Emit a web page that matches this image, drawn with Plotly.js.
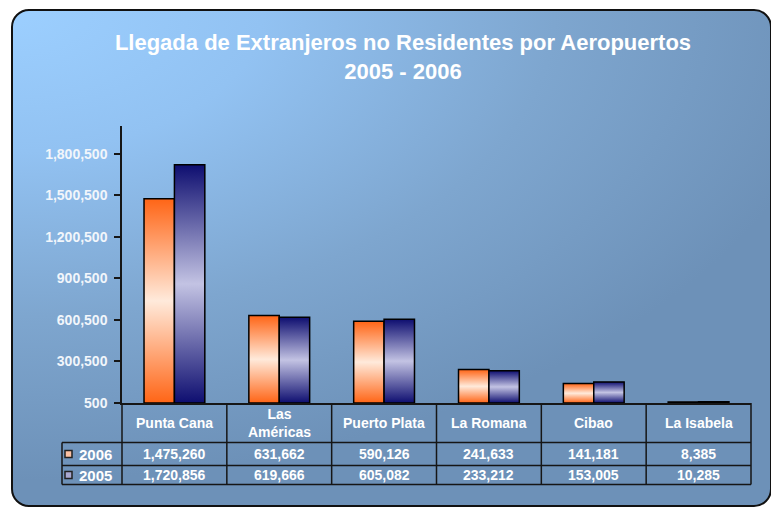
<!DOCTYPE html>
<html>
<head>
<meta charset="utf-8">
<script src="https://cdn.plot.ly/plotly-3.0.1.min.js"></script>
<style>
html, body { margin: 0; padding: 0; background: #ffffff; }
#card {
  position: absolute; left: 11px; top: 9px; width: 757px; height: 494px;
  border: 2px solid #111; border-radius: 18px;
  background: radial-gradient(ellipse 110% 95% at 0% 0%, #9ccfff 0%, #92c2f2 30%, #7ea6cf 65%, #6d91b8 100%);
}
#chart { position: absolute; left: 0; top: 0; width: 771px; height: 507px; }
</style>
</head>
<body>
<div id="card"></div>
<div id="chart"></div>
<script>
// ---- data ----
const categories = ['Punta Cana', 'Las<br>Américas', 'Puerto Plata', 'La Romana', 'Cibao', 'La Isabela'];
const seriesNames = ['2006', '2005'];
const values2006 = [1475260, 631662, 590126, 241633, 141181, 8385];
const values2005 = [1720856, 619666, 605082, 233212, 153005, 10285];
const axisBase = 500;
const axisMax = 2000500;
const tickStep = 300000;

// ---- style / layout constants ----
const W = 771, H = 507;
const M = {l: 122, r: 20, t: 126, b: 104};
const plotW = W - M.l - M.r, plotH = H - M.t - M.b;
const barW = 0.29;
const scales = [
  [[0, '#ff6516'], [0.5, '#ffeadb'], [1, '#ff6516']],
  [[0, '#0e0e70'], [0.5, '#c3c3e3'], [1, '#0e0e70']]
];
const keyFill = ['#fbc0a2', '#a8a8d0'];
const series = [values2006, values2005];
const font = 'Liberation Sans, Arial, sans-serif';
const lineCol = '#161616';

const nCat = categories.length;
const traces = [];
series.forEach((vals, s) => {
  vals.forEach((v, i) => {
    const x0 = s === 0 ? i - barW : i;
    const x1 = x0 + barW;
    traces.push({
      type: 'scatter', mode: 'lines', fill: 'toself',
      x: [x0, x0, x1, x1, x0],
      y: [axisBase, v, v, axisBase, axisBase],
      line: {color: '#000', width: 1.5},
      fillgradient: {type: 'vertical', colorscale: scales[s]},
      name: seriesNames[s],
      text: categories[i].replace('<br>', ' ') + ' ' + seriesNames[s] + ': ' + v.toLocaleString('en-US'),
      hoverinfo: 'text', showlegend: false
    });
  });
});

// paper helpers
const px = p => p / plotW;           // horizontal pixel offset from plot left -> paper
const catEdge = k => k / nCat;        // boundary between categories in paper units

const shapes = [];
const rows = [-39.5, -62.5, -81.5];   // pixel offsets below the axis
const hl = (xa, xb, yp) => shapes.push({type: 'line', xref: 'paper', yref: 'paper', ysizemode: 'pixel', yanchor: 0,
  x0: xa, x1: xb, y0: yp, y1: yp, line: {color: lineCol, width: 1.5}});
const vl = (xp, ya, yb) => shapes.push({type: 'line', xref: 'paper', yref: 'paper', ysizemode: 'pixel', yanchor: 0,
  x0: xp, x1: xp, y0: ya, y1: yb, line: {color: lineCol, width: 1.5}});
rows.forEach(r => hl(px(-60), 1, r));
for (let k = 0; k <= nCat; k++) vl(catEdge(k), 0, rows[2]);
vl(px(-60), rows[0], rows[2]);
// legend keys
[-51, -72].forEach((cy, s) => {
  shapes.push({type: 'rect', xref: 'paper', yref: 'paper', xsizemode: 'pixel', xanchor: 0, ysizemode: 'pixel', yanchor: 0,
    x0: -57, x1: -50, y0: cy - 3.5, y1: cy + 3.5, fillcolor: keyFill[s], line: {color: '#222', width: 1.5}});
});

const annotations = [];
const txt = (extra) => Object.assign({showarrow: false, font: {family: font, size: 14, color: '#ffffff', weight: 'bold'}}, extra);
categories.forEach((c, i) => {
  annotations.push(txt({text: c, xref: 'x', x: i, yref: 'paper', y: 0, yanchor: 'middle', yshift: -20, align: 'center'}));
  annotations.push(txt({text: values2006[i].toLocaleString('en-US'), xref: 'x', x: i, yref: 'paper', y: 0, yanchor: 'middle', yshift: -51}));
  annotations.push(txt({text: values2005[i].toLocaleString('en-US'), xref: 'x', x: i, yref: 'paper', y: 0, yanchor: 'middle', yshift: -72}));
});
seriesNames.forEach((n, s) => {
  annotations.push(txt({text: n, xref: 'paper', x: 0, xanchor: 'center', xshift: -27, yref: 'paper', y: 0, yanchor: 'middle',
    yshift: s === 0 ? -51 : -72, font: {family: font, size: 15, color: '#ffffff', weight: 'bold'}}));
});

const layout = {
  width: W, height: H,
  margin: M,
  paper_bgcolor: 'rgba(0,0,0,0)', plot_bgcolor: 'rgba(0,0,0,0)',
  title: {
    text: 'Llegada de Extranjeros no Residentes por Aeropuertos<br>2005 - 2006',
    font: {family: font, size: 22, color: '#ffffff', weight: 'bold'},
    xref: 'container', x: 403 / W, xanchor: 'center',
    yref: 'container', y: 1 - 50 / H, yanchor: 'top'
  },
  xaxis: {range: [-0.5, nCat - 0.5], showticklabels: false, showgrid: false, zeroline: false,
    showline: true, linecolor: lineCol, linewidth: 1.5, ticks: '', fixedrange: true},
  yaxis: {range: [axisBase, axisMax], tick0: axisBase, dtick: tickStep, tickformat: ',d',
    showgrid: false, zeroline: false, showline: true, linecolor: lineCol, linewidth: 1.5,
    ticks: 'outside', ticklen: 6, tickwidth: 1.5, tickcolor: lineCol, ticklabelstandoff: 4,
    tickfont: {family: font, size: 14, color: '#f2f6fb', weight: 'bold'}, fixedrange: true},
  shapes: shapes,
  annotations: annotations,
  showlegend: false,
  hovermode: 'closest'
};

Plotly.newPlot('chart', traces, layout, {displayModeBar: false, staticPlot: false});
</script>
</body>
</html>
